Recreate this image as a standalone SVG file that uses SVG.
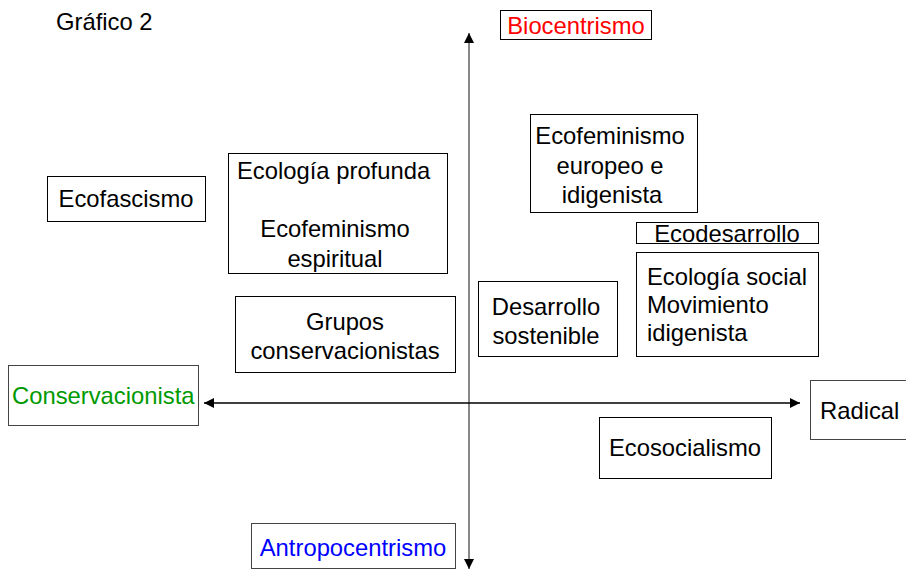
<svg xmlns="http://www.w3.org/2000/svg" width="906" height="571" viewBox="0 0 906 571">
<defs>
<marker id="ah" viewBox="0 0 10 10" refX="10" refY="5" markerWidth="10" markerHeight="10" markerUnits="userSpaceOnUse" orient="auto">
<path d="M0,0 L10,5 L0,10 z" fill="#000"/>
</marker>
<style>
rect{fill:#fff;stroke:#000;stroke-width:1}
text{font-family:"Liberation Sans",Arial,sans-serif;font-size:23.8px;fill:#000}
.c{text-anchor:middle}
</style>
</defs>
<rect x="0" y="0" width="906" height="571" style="stroke:none"/>
<text x="56" y="30">Gráfico 2</text>
<g id="connectors">
<line x1="469" y1="401" x2="469" y2="33" stroke="#888" stroke-width="2" marker-end="url(#ah)"/>
<line x1="469" y1="401" x2="469" y2="569" stroke="#888" stroke-width="2" marker-end="url(#ah)"/>
<line x1="469" y1="403" x2="204" y2="403" stroke="#000" stroke-width="1.5" marker-end="url(#ah)"/>
<line x1="469" y1="403" x2="800" y2="403" stroke="#000" stroke-width="1.5" marker-end="url(#ah)"/>
</g>
<g id="biocentrismo"><rect x="500.5" y="10.5" width="151" height="29"/><text class="c" x="576" y="34" style="fill:#f00">Biocentrismo</text></g>
<g id="conservacionista"><rect x="8.5" y="365.5" width="190" height="60" style="stroke:#444"/><text x="12" y="404" style="fill:#090">Conservacionista</text></g>
<g id="radical"><rect x="810.5" y="380.5" width="100" height="59" style="stroke:#444"/><text x="820" y="419">Radical</text></g>
<g id="antropocentrismo"><rect x="251.5" y="523.5" width="204" height="45" style="stroke:#444"/><text class="c" x="353" y="556" style="fill:#00f">Antropocentrismo</text></g>
<g id="ecofascismo"><rect x="47.5" y="176.5" width="158" height="45"/><text class="c" x="126" y="207">Ecofascismo</text></g>
<g id="ecologia-profunda"><rect x="228.5" y="153.5" width="219" height="120"/><text x="237" y="179">Ecología profunda</text><text class="c" x="335" y="237">Ecofeminismo</text><text class="c" x="335" y="267">espiritual</text></g>
<g id="grupos"><rect x="235.5" y="296.5" width="220" height="76"/><text class="c" x="345" y="330">Grupos</text><text class="c" x="345" y="359">conservacionistas</text></g>
<g id="ecofeminismo-europeo"><rect x="530.5" y="114.5" width="167" height="98"/><text class="c" x="610" y="144">Ecofeminismo</text><text class="c" x="610" y="174">europeo e</text><text class="c" x="612" y="203">idigenista</text></g>
<g id="ecodesarrollo"><rect x="636.5" y="222.5" width="182" height="21"/><text class="c" x="727" y="242">Ecodesarrollo</text></g>
<g id="ecologia-social"><rect x="636.5" y="252.5" width="182" height="104"/><text x="647" y="285">Ecología social</text><text x="647" y="313">Movimiento</text><text x="647" y="341">idigenista</text></g>
<g id="desarrollo-sostenible"><rect x="478.5" y="281.5" width="139" height="75"/><text class="c" x="546" y="315">Desarrollo</text><text class="c" x="546" y="344">sostenible</text></g>
<g id="ecosocialismo"><rect x="599.5" y="417.5" width="172" height="61"/><text class="c" x="685" y="456">Ecosocialismo</text></g>
</svg>
